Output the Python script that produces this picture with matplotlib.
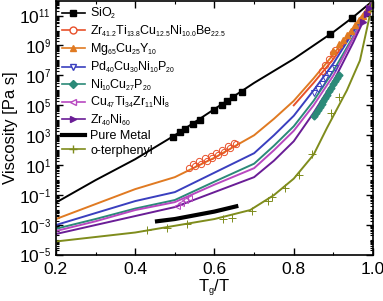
import numpy as np
import matplotlib
matplotlib.use("Agg")
import matplotlib.pyplot as plt
from matplotlib.lines import Line2D
from matplotlib.ticker import NullFormatter
try:
    import matplotlib._mathtext as _mt
    _mt.SHRINK_FACTOR = 0.55
except Exception:
    pass

plt.rcParams['font.family'] = ['Liberation Sans', 'DejaVu Sans']
plt.rcParams['mathtext.default'] = 'regular'

# ---------------- data (log10 viscosity) ----------------
x_grid = [0.2, 0.3, 0.4, 0.5, 0.6, 0.7, 0.75, 0.8, 0.85, 0.9, 0.95, 1.0]
sio2_x = [0.2, 0.3, 0.4, 0.5, 0.6, 0.7, 0.8, 0.9, 0.95, 1.0]
sio2_log = [-1.5, 0.0, 1.4, 3.0, 4.75, 6.5, 8.1, 9.9, 10.9, 12.0]
sio2_px = [0.495, 0.513, 0.526, 0.546, 0.563, 0.60, 0.62, 0.632, 0.647, 0.669, 0.891, 0.947]
sio2_py = [2.9, 3.2, 3.4, 3.75, 4.05, 4.7, 5.05, 5.3, 5.55, 5.9, 9.75, 10.85]

mg_log = [-2.6, -1.6, -0.6, 0.2, 1.5, 3.0, 4.1, 5.3, 6.8, 8.4, 10.2, 12.0]
zr_x = [0.8, 0.85, 0.9, 0.95, 1.0]
zr_log = [5.0, 6.5, 8.1, 10.0, 12.0]
pd_log = [-3.0, -2.2, -1.4, -0.8, 0.5, 1.8, 3.0, 4.3, 6.0, 7.8, 9.9, 12.0]
ni_log = [-3.25, -2.6, -1.9, -1.33, -0.1, 1.1, 2.3, 3.6, 5.3, 7.3, 9.6, 12.0]
cu_log = [-3.4, -2.75, -2.0, -1.47, -0.3, 0.8, 2.0, 3.3, 5.0, 7.0, 9.5, 12.0]
zrni_log = [-3.6, -3.0, -2.4, -1.8, -0.8, 0.2, 1.3, 2.6, 4.5, 6.6, 9.2, 12.0]
otp_x = [0.2, 0.3, 0.4, 0.5, 0.6, 0.69, 0.75, 0.8, 0.85, 0.884, 0.934, 0.967, 1.0]
otp_log = [-4.1, -3.8, -3.5, -3.05, -2.6, -2.0, -1.0, 0.1, 1.7, 3.5, 6.0, 8.0, 12.0]
metal_x = [0.455, 0.5, 0.55, 0.6, 0.655]
metal_log = [-2.75, -2.6, -2.35, -2.1, -1.75]

# markers
zr_mx = [0.535, 0.545, 0.55, 0.56, 0.565, 0.575, 0.58, 0.59, 0.595, 0.605, 0.61,
         0.62, 0.625, 0.635, 0.64, 0.65, 0.655, 0.87, 0.88, 0.89, 0.90, 0.905]
zr_my = [0.8, 1.1, 0.95, 1.3, 1.1, 1.45, 1.3, 1.6, 1.45, 1.8, 1.65, 2.0, 1.9, 2.3, 2.15,
         2.5, 2.4, 7.3, 7.7, 8.1, 8.5, 8.7]
mg_mx = [0.9, 0.915, 0.925, 0.935, 0.945, 0.955, 0.965, 0.975, 0.985]
mg_my = [8.6, 9.1, 9.4, 9.7, 10.0, 10.4, 10.7, 11.0, 11.4]
pd_mx = [0.85, 0.86, 0.87, 0.88, 0.89, 0.905]
pd_my = [5.8, 6.1, 6.4, 6.8, 7.1, 7.5]
ni_mx = [0.85, 0.855, 0.86, 0.865, 0.87, 0.875, 0.88, 0.885, 0.89, 0.895, 0.9, 0.905, 0.91, 0.915]
ni_my = [4.3, 4.5, 4.7, 4.9, 5.1, 5.3, 5.5, 5.7, 5.95, 6.15, 6.4, 6.6, 6.85, 7.05]
cu_mx = [0.505, 0.515, 0.525, 0.535]
cu_my = [-1.75, -1.55, -1.35, -1.2]
zrni_mx = [0.975, 0.985, 0.99]
zrni_my = [10.6, 11.1, 11.5]
otp_mx = [0.43, 0.48, 0.531, 0.621, 0.644, 0.695, 0.735, 0.745, 0.778, 0.813, 0.846, 0.894, 0.914]
otp_my = [-3.33, -3.2, -2.93, -2.6, -2.53, -2.07, -1.4, -1.13, -0.53, 0.33, 1.73, 4.47, 5.53]

labels = [r'SiO$_2$',
          r'Zr$_{41.2}$Ti$_{13.8}$Cu$_{12.5}$Ni$_{10.0}$Be$_{22.5}$',
          r'Mg$_{65}$Cu$_{25}$Y$_{10}$',
          r'Pd$_{40}$Cu$_{30}$Ni$_{10}$P$_{20}$',
          r'Ni$_{10}$Cu$_{27}$P$_{20}$',
          r'Cu$_{47}$Ti$_{34}$Zr$_{11}$Ni$_{8}$',
          r'Zr$_{40}$Ni$_{60}$',
          'Pure Metal',
          'o-terphenyl']
x_ticks = [0.2, 0.4, 0.6, 0.8, 1.0]
x_ticklabels = ['0.2', '0.4', '0.6', '0.8', '1.0']
y_ticks = [1e-5, 1e-3, 1e-1, 1e1, 1e3, 1e5, 1e7, 1e9, 1e11]
y_ticklabels = [r'10$^{-5}$', r'10$^{-3}$', r'10$^{-1}$', r'10$^{1}$', r'10$^{3}$',
                r'10$^{5}$', r'10$^{7}$', r'10$^{9}$', r'10$^{11}$']

c_sio2 = 'black'
c_zr = '#e8502a'
c_mg = '#e07a22'
c_pd = '#3a3fbf'
c_ni = '#2b8a78'
c_cu = '#b848c0'
c_zrni = '#6a1d96'
c_otp = '#7f8c1c'

def p(v):
    return 10.0 ** np.asarray(v)

fig = plt.figure(figsize=(3.83, 3.01), dpi=100)
ax = fig.add_axes([0.146, 0.153, 0.828, 0.845])

lw = 1.4
ax.plot(sio2_x, p(sio2_log), color=c_sio2, lw=lw)
ax.plot(sio2_px, p(sio2_py), 's', color=c_sio2, ms=4, ls='none')
ax.plot(zr_x, p(zr_log), color=c_zr, lw=lw)
ax.plot(x_grid, p(mg_log), color=c_mg, lw=lw)
ax.plot(x_grid, p(pd_log), color=c_pd, lw=lw)
ax.plot(x_grid, p(ni_log), color=c_ni, lw=lw)
ax.plot(x_grid, p(cu_log), color=c_cu, lw=lw)
ax.plot(x_grid, p(zrni_log), color=c_zrni, lw=lw)
ax.plot(otp_x, p(otp_log), color=c_otp, lw=lw)
ax.plot(metal_x, p(metal_log), color='black', lw=3)

ax.plot(zr_mx, p(zr_my), 'o', mfc='none', mec=c_zr, ms=4.5, mew=0.7, ls='none')
ax.plot(mg_mx, p(mg_my), '^', color=c_mg, ms=4, ls='none')
ax.plot(pd_mx, p(pd_my), 'v', mfc='none', mec=c_pd, ms=4.5, mew=0.7, ls='none')
ax.plot(ni_mx, p(ni_my), 'D', color=c_ni, ms=3.5, ls='none')
ax.plot(cu_mx, p(cu_my), '<', mfc='none', mec=c_cu, ms=4.5, mew=0.7, ls='none')
ax.plot(zrni_mx, p(zrni_my), '>', color=c_zrni, ms=4, ls='none')
ax.plot(otp_mx, p(otp_my), '+', color=c_otp, ms=6, mew=0.7, ls='none')

ax.set_yscale('log')
ax.set_xlim(0.2, 1.0)
ax.set_ylim(1e-5, 1e12)
ax.set_xticks(x_ticks)
ax.set_xticklabels(x_ticklabels)
ax.set_xticks([0.3, 0.5, 0.7, 0.9], minor=True)
ax.set_yticks(y_ticks)
ax.set_yticklabels(y_ticklabels)
yminor = []
for e in range(-5, 12):
    for s in range(1, 10):
        v = s * 10.0 ** e
        if v <= 1e12 and v not in y_ticks:
            yminor.append(v)
yminor.append(1e12)
ax.set_yticks(yminor, minor=True)
ax.yaxis.set_minor_formatter(NullFormatter())
ax.tick_params(which='both', direction='in', top=True, right=True, labelsize=12.5)
ax.tick_params(axis='x', which='major', pad=5)
ax.tick_params(which='major', length=5, width=1)
ax.tick_params(which='minor', length=2.5, width=0.8)
for s in ax.spines.values():
    s.set_linewidth(1.2)

ax.set_ylabel('Viscosity [Pa s]', fontsize=12, labelpad=1)
ax.set_xlabel(r'T$_g$/T', fontsize=12, labelpad=1)

handles = [
    Line2D([], [], color=c_sio2, marker='s', ms=4.5, lw=1.2),
    Line2D([], [], color=c_zr, marker='o', mfc='white', ms=5, lw=1.2),
    Line2D([], [], color=c_mg, marker='^', ms=5, lw=1.2),
    Line2D([], [], color=c_pd, marker='v', mfc='white', ms=5, lw=1.2),
    Line2D([], [], color=c_ni, marker='D', ms=4, lw=1.2),
    Line2D([], [], color=c_cu, marker='<', mfc='white', ms=5, lw=1.2),
    Line2D([], [], color=c_zrni, marker='>', ms=5, lw=1.2),
    Line2D([], [], color='black', lw=3),
    Line2D([], [], color=c_otp, marker='+', ms=6, lw=1.2),
]
leg = ax.legend(handles, labels, loc='upper left', bbox_to_anchor=(0.0, 1.0),
                frameon=False, fontsize=9, handlelength=1.9, handletextpad=0.4,
                labelspacing=0.2, borderaxespad=0.25, borderpad=0.2)

fig.savefig('out.png', dpi=100)
